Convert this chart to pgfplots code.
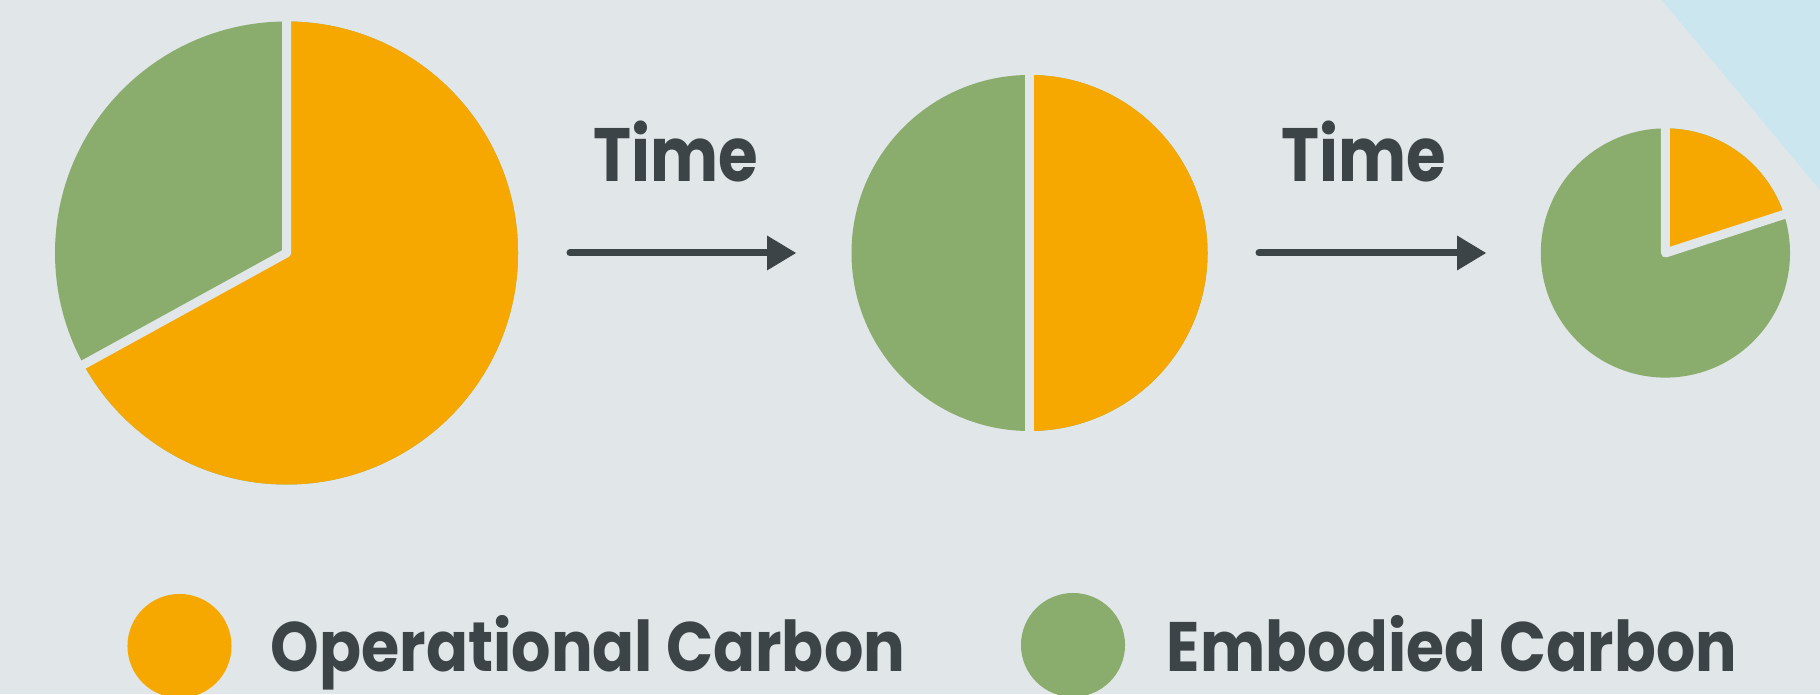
\documentclass[border=0pt]{standalone}
\usepackage{pgfplots}
\pgfplotsset{compat=1.18}
\usetikzlibrary{arrows.meta}
\usepackage{fontspec}
\setmainfont{Poppins}

\definecolor{bg}{RGB}{225,230,233}
\definecolor{skyblue}{RGB}{204,230,240}
\definecolor{opcol}{RGB}{247,168,0}
\definecolor{embcol}{RGB}{138,173,110}
\definecolor{ink}{RGB}{61,68,72}

% one pie: centre x, centre y, radius (px), operational share (%)
% operational slice runs clockwise from 12 o'clock, embodied fills the rest
\newcommand{\pie}[4]{%
  \fill[embcol] (axis cs:#1,#2) circle[radius={#3*0.01cm}];
  \fill[opcol] (axis cs:#1,#2) -- ++(90:{#3*0.01cm})
     arc[start angle=90, delta angle={-#4*3.6}, radius={#3*0.01cm}] -- cycle;
  \draw[bg, line width=0.09cm, line join=round, line cap=round]
     ([shift={(90:{(#3+6)*0.01cm})}]axis cs:#1,#2) -- (axis cs:#1,#2)
     -- ([shift={({90-#4*3.6}:{(#3+6)*0.01cm})}]axis cs:#1,#2);
}
% arrow: start x, tip x, y (px)
\newcommand{\timearrow}[3]{%
  \draw[ink, line width=0.07cm, line cap=round] (axis cs:#1,#3) -- (axis cs:#2-20,#3);
  \fill[ink] (axis cs:#2,#3) -- (axis cs:#2-29,#3+17.5) -- (axis cs:#2-29,#3-17.5) -- cycle;
}
\newcommand{\timefont}{\bfseries\fontsize{21.5pt}{24pt}\selectfont}
\newcommand{\legfont}{\bfseries\fontsize{19.9pt}{22pt}\selectfont}

\begin{document}
\begin{tikzpicture}
\begin{axis}[
    x=0.01cm, y=0.01cm,
    xmin=0, xmax=1820, ymin=0, ymax=694,
    hide axis,
  ]
  \fill[bg] (axis cs:0,0) rectangle (axis cs:1820,694);
  \fill[skyblue] (axis cs:1661.6,694) -- (axis cs:1820,503.7) -- (axis cs:1820,694) -- cycle;

  % pies
  \pie{286.5}{441}{231.5}{67}
  \pie{1029.5}{441}{178}{50}
  \pie{1665.4}{441}{124.6}{20}

  % arrows
  \timearrow{570}{796}{441}
  \timearrow{1259}{1486}{441}
  \node[anchor=base west, inner sep=0, text=ink, font=\timefont]
    at (axis cs:593,512) {\scalebox{0.85}[1]{Time}};
  \node[anchor=base west, inner sep=0, text=ink, font=\timefont]
    at (axis cs:1281,512.5) {\scalebox{0.85}[1]{Time}};

  % legend
  \fill[opcol] (axis cs:179.5,48) circle[radius=0.52cm];
  \node[anchor=base west, inner sep=0, text=ink, font=\legfont]
    at (axis cs:270,23) {\scalebox{0.885}[1]{Operational Carbon}};
  \fill[embcol] (axis cs:1073,49) circle[radius=0.52cm];
  \node[anchor=base west, inner sep=0, text=ink, font=\legfont]
    at (axis cs:1166,23) {\scalebox{0.88}[1]{Embodied Carbon}};
\end{axis}
\pgfresetboundingbox
\path (current axis.south west) rectangle (current axis.north east);
\end{tikzpicture}
\end{document}
